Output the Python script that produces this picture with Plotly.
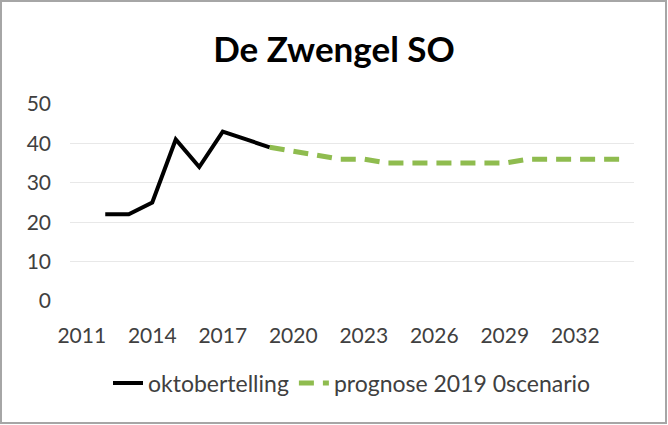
import plotly.graph_objects as go

years_obs = [2012, 2013, 2014, 2015, 2016, 2017, 2018, 2019]
oktobertelling = [22, 22, 25, 41, 34, 43, 41, 39]

years_prog = list(range(2019, 2035))
prognose = [39, 38, 37, 36, 36, 35, 35, 35, 35, 35, 35, 36, 36, 36, 36, 36]

x_ticks = [2011, 2014, 2017, 2020, 2023, 2026, 2029, 2032]
y_ticks = [0, 10, 20, 30, 40, 50]

FONT = "Lato"
W, H = 668, 425
L, R, T, B = 70, 34, 104, 124
pw, ph = W - L - R, H - T - B

fig = go.Figure()
fig.add_trace(go.Scatter(x=years_obs, y=oktobertelling, mode="lines", name="oktobertelling",
                         line=dict(color="black", width=4)))
fig.add_trace(go.Scatter(x=years_prog, y=prognose, mode="lines", name="prognose 2019 0scenario",
                         line=dict(color="#8fbc4f", width=5, dash="15px,9px")))

def px_x(p):
    return (p - L) / pw

def px_y(p):
    return (H - B - p) / ph

fig.add_shape(type="rect", xref="paper", yref="paper",
              x0=px_x(1), x1=px_x(666), y0=px_y(423), y1=px_y(1),
              line=dict(color="#a6a6a6", width=2), layer="above")

fig.update_layout(
    width=W, height=H,
    margin=dict(l=L, r=R, t=T, b=B),
    paper_bgcolor="white", plot_bgcolor="white",
    title=dict(text="<b>De Zwengel SO</b>", x=0.5, xanchor="center", y=1 - 50 / H, yanchor="middle",
               font=dict(family=FONT, size=35, color="black")),
    font=dict(family=FONT, size=21, color="#404040"),
    showlegend=True,
    legend=dict(orientation="h", x=0.5, xanchor="center", y=px_y(383), yanchor="middle",
                font=dict(family=FONT, size=23, color="#404040"), bgcolor="rgba(0,0,0,0)",
                itemwidth=30),
    xaxis=dict(range=[2010.5, 2034.5], tickmode="array", tickvals=x_ticks,
               ticktext=[str(v) for v in x_ticks], showgrid=False, zeroline=False,
               showline=False, ticks="", ticklabelstandoff=20,
               tickfont=dict(family=FONT, size=21, color="#404040")),
    yaxis=dict(range=[0, 50], tickmode="array", tickvals=y_ticks, showgrid=True,
               gridcolor="#e8e8e8", gridwidth=1, zeroline=False, showline=False, ticks="",
               ticklabelstandoff=18,
               tickfont=dict(family=FONT, size=21, color="#404040")),
)

fig.write_html("out.html", post_script="document.body.style.margin='0';",
               config={"displayModeBar": False})
